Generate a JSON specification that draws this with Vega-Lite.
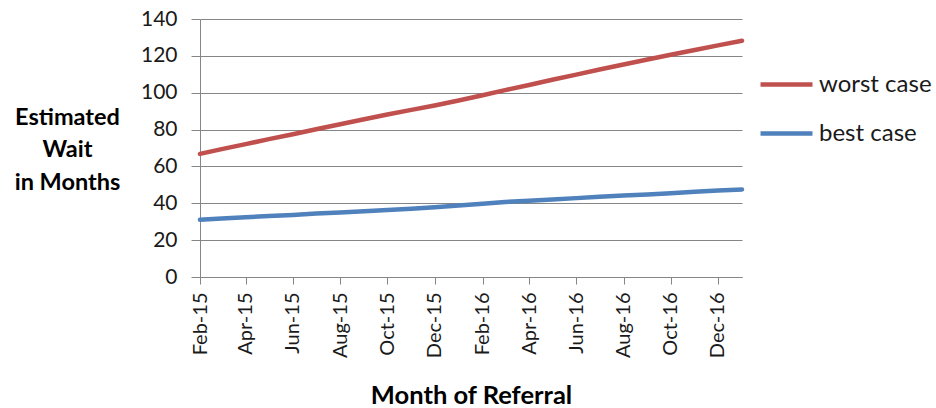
{
  "$schema": "https://vega.github.io/schema/vega-lite/v6.json",
  "width": 542,
  "height": 258,
  "autosize": {"type": "none"},
  "padding": {"left": 200, "top": 19, "right": 194, "bottom": 131},
  "background": "white",
  "config": {
    "view": {"stroke": null},
    "font": "Lato",
    "axis": {"labelFont": "Lato", "titleFont": "Lato", "labelColor": "#1a1a1a", "titleColor": "#000000"}
  },
  "data": {
    "values": [
      {"month": "2015-02-01", "series": "worst case", "value": 66.8},
      {"month": "2015-03-01", "series": "worst case", "value": 69.4},
      {"month": "2015-04-01", "series": "worst case", "value": 72.1},
      {"month": "2015-05-01", "series": "worst case", "value": 74.8},
      {"month": "2015-06-01", "series": "worst case", "value": 77.5},
      {"month": "2015-07-01", "series": "worst case", "value": 80.2},
      {"month": "2015-08-01", "series": "worst case", "value": 82.9},
      {"month": "2015-09-01", "series": "worst case", "value": 85.6},
      {"month": "2015-10-01", "series": "worst case", "value": 88.2},
      {"month": "2015-11-01", "series": "worst case", "value": 90.7},
      {"month": "2015-12-01", "series": "worst case", "value": 93.1},
      {"month": "2016-01-01", "series": "worst case", "value": 95.8},
      {"month": "2016-02-01", "series": "worst case", "value": 98.6},
      {"month": "2016-03-01", "series": "worst case", "value": 101.4},
      {"month": "2016-04-01", "series": "worst case", "value": 104.2},
      {"month": "2016-05-01", "series": "worst case", "value": 107.0},
      {"month": "2016-06-01", "series": "worst case", "value": 109.8},
      {"month": "2016-07-01", "series": "worst case", "value": 112.6},
      {"month": "2016-08-01", "series": "worst case", "value": 115.3},
      {"month": "2016-09-01", "series": "worst case", "value": 118.0},
      {"month": "2016-10-01", "series": "worst case", "value": 120.6},
      {"month": "2016-11-01", "series": "worst case", "value": 123.2},
      {"month": "2016-12-01", "series": "worst case", "value": 125.7},
      {"month": "2017-01-01", "series": "worst case", "value": 128.2},
      {"month": "2015-02-01", "series": "best case", "value": 31.0},
      {"month": "2015-03-01", "series": "best case", "value": 31.7},
      {"month": "2015-04-01", "series": "best case", "value": 32.4},
      {"month": "2015-05-01", "series": "best case", "value": 33.1},
      {"month": "2015-06-01", "series": "best case", "value": 33.7},
      {"month": "2015-07-01", "series": "best case", "value": 34.4},
      {"month": "2015-08-01", "series": "best case", "value": 35.0},
      {"month": "2015-09-01", "series": "best case", "value": 35.7},
      {"month": "2015-10-01", "series": "best case", "value": 36.3},
      {"month": "2015-11-01", "series": "best case", "value": 37.0},
      {"month": "2015-12-01", "series": "best case", "value": 37.8},
      {"month": "2016-01-01", "series": "best case", "value": 38.8},
      {"month": "2016-02-01", "series": "best case", "value": 39.8},
      {"month": "2016-03-01", "series": "best case", "value": 40.7},
      {"month": "2016-04-01", "series": "best case", "value": 41.4},
      {"month": "2016-05-01", "series": "best case", "value": 42.1},
      {"month": "2016-06-01", "series": "best case", "value": 42.8},
      {"month": "2016-07-01", "series": "best case", "value": 43.5},
      {"month": "2016-08-01", "series": "best case", "value": 44.2},
      {"month": "2016-09-01", "series": "best case", "value": 44.8},
      {"month": "2016-10-01", "series": "best case", "value": 45.5},
      {"month": "2016-11-01", "series": "best case", "value": 46.2},
      {"month": "2016-12-01", "series": "best case", "value": 46.9},
      {"month": "2017-01-01", "series": "best case", "value": 47.5}
    ]
  },
  "mark": {"type": "line", "strokeWidth": 4.5, "strokeCap": "round", "strokeJoin": "round"},
  "encoding": {
    "x": {
      "field": "month",
      "type": "temporal",
      "scale": {"type": "utc", "domain": [{"year": 2015, "month": 2, "date": 1, "utc": true}, {"year": 2017, "month": 1, "date": 1, "utc": true}], "nice": false},
      "axis": {
        "title": "Month of Referral",
        "titleFontSize": 25.5,
        "titleFontWeight": "bold",
        "titleY": 118,
        "titleBaseline": "middle",
        "labelExpr": "utcFormat(datum.value, '%b-%y')",
        "values": [
          {"year": 2015, "month": 2, "date": 1, "utc": true},
          {"year": 2015, "month": 4, "date": 1, "utc": true},
          {"year": 2015, "month": 6, "date": 1, "utc": true},
          {"year": 2015, "month": 8, "date": 1, "utc": true},
          {"year": 2015, "month": 10, "date": 1, "utc": true},
          {"year": 2015, "month": 12, "date": 1, "utc": true},
          {"year": 2016, "month": 2, "date": 1, "utc": true},
          {"year": 2016, "month": 4, "date": 1, "utc": true},
          {"year": 2016, "month": 6, "date": 1, "utc": true},
          {"year": 2016, "month": 8, "date": 1, "utc": true},
          {"year": 2016, "month": 10, "date": 1, "utc": true},
          {"year": 2016, "month": 12, "date": 1, "utc": true}
        ],
        "labelAngle": -90,
        "labelFontSize": 20,
        "labelPadding": 8,
        "labelOverlap": false,
        "labelFlush": false,
        "grid": false,
        "domainColor": "#868686",
        "domainWidth": 1,
        "tickColor": "#868686",
        "tickSize": 7,
        "tickWidth": 1
      }
    },
    "y": {
      "field": "value",
      "type": "quantitative",
      "scale": {"domain": [0, 140], "nice": false},
      "axis": {
        "title": ["Estimated", "Wait", "in Months"],
        "titleFontSize": 23.5,
        "titleFontWeight": "bold",
        "titleAngle": 0,
        "titleAlign": "center",
        "titleBaseline": "middle",
        "titleLineHeight": 32.5,
        "titleX": -133,
        "titleY": 98,
        "values": [0, 20, 40, 60, 80, 100, 120, 140],
        "labelFontSize": 21,
        "labelPadding": 14,
        "grid": true,
        "gridColor": "#868686",
        "gridWidth": 1,
        "domainColor": "#868686",
        "domainWidth": 1,
        "tickColor": "#868686",
        "tickSize": 9,
        "tickWidth": 1
      }
    },
    "color": {
      "field": "series",
      "type": "nominal",
      "scale": {"domain": ["worst case", "best case"], "range": ["#C0504D", "#4F81BD"]},
      "legend": {
        "orient": "none",
        "legendX": 558,
        "legendY": 37,
        "title": null,
        "symbolType": "stroke",
        "symbolSize": 2700,
        "symbolStrokeWidth": 4.5,
        "labelFontSize": 24,
        "labelFont": "Lato",
        "labelColor": "#1a1a1a",
        "labelOffset": 4,
        "rowPadding": 8
      }
    }
  }
}
